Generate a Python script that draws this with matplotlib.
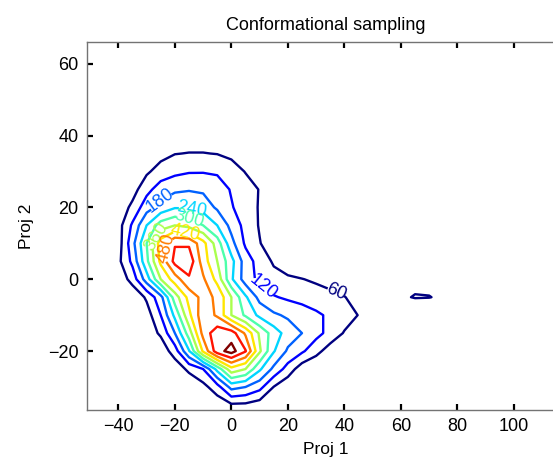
import numpy as np
import matplotlib
matplotlib.use("Agg")
import matplotlib.pyplot as plt
from matplotlib.colors import Normalize

plt.rcParams["font.family"] = ["Liberation Sans", "DejaVu Sans"]

# bin centres of the 2-D histogram (Proj 1 across, Proj 2 down the rows)
proj1_bins = [-45, -40, -35, -30, -25, -20, -15, -10, -5, 0, 5, 10, 15,
              20, 25, 30, 35, 40, 45, 50, 55, 60, 65, 70, 75, 80]
proj2_bins = [40, 35, 30, 25, 20, 15, 10, 5, 0, -5, -10, -15, -20,
              -25, -30, -35, -40]

# counts, one row per Proj 2 bin
counts = [
    [0, 0, 0, 0, 10, 25, 25, 25, 20, 10, 0, 0, 0, 0, 0, 0, 0, 0, 0, 0, 0, 0, 0, 0, 0, 0],
    [0, 0, 5, 20, 40, 58, 62, 62, 58, 45, 25, 5, 0, 0, 0, 0, 0, 0, 0, 0, 0, 0, 0, 0, 0, 0],
    [0, 5, 20, 50, 85, 105, 115, 116, 112, 90, 57, 35, 10, 0, 0, 0, 0, 0, 0, 0, 0, 0, 0, 0, 0, 0],
    [0, 10, 35, 100, 150, 168, 175, 170, 150, 115, 88, 57, 25, 5, 0, 0, 0, 0, 0, 0, 0, 0, 0, 0, 0, 0],
    [5, 20, 75, 155, 200, 235, 235, 215, 170, 125, 90, 55, 20, 5, 0, 0, 0, 0, 0, 0, 0, 0, 0, 0, 0, 0],
    [10, 35, 130, 240, 330, 360, 340, 300, 240, 160, 100, 55, 25, 5, 0, 0, 0, 0, 0, 0, 0, 0, 0, 0, 0, 0],
    [10, 30, 160, 300, 450, 535, 530, 440, 330, 200, 110, 63, 25, 5, 0, 0, 0, 0, 0, 0, 0, 0, 0, 0, 0, 0],
    [10, 45, 135, 285, 435, 560, 580, 450, 360, 260, 150, 95, 52, 25, 5, 0, 0, 0, 0, 0, 0, 0, 0, 0, 0, 0],
    [5, 15, 85, 210, 360, 450, 530, 490, 400, 250, 150, 105, 80, 70, 62, 50, 40, 25, 10, 0, 0, 30, 50, 50, 30, 0],
    [0, 0, 10, 70, 160, 330, 440, 500, 470, 360, 250, 160, 125, 110, 100, 90, 75, 62, 40, 10, 20, 55, 62, 61, 55, 20],
    [0, 0, 0, 30, 120, 255, 405, 520, 470, 360, 290, 225, 190, 170, 150, 130, 110, 90, 58, 20, 5, 10, 25, 25, 10, 5],
    [0, 0, 0, 25, 70, 180, 330, 500, 580, 570, 470, 350, 270, 215, 180, 140, 100, 55, 25, 5, 0, 0, 0, 0, 0, 0],
    [0, 0, 0, 0, 20, 90, 235, 430, 575, 625, 545, 370, 245, 170, 130, 80, 30, 5, 0, 0, 0, 0, 0, 0, 0, 0],
    [0, 0, 0, 0, 0, 20, 75, 120, 260, 400, 360, 250, 165, 95, 25, 5, 0, 0, 0, 0, 0, 0, 0, 0, 0, 0],
    [0, 0, 0, 0, 0, 0, 5, 40, 95, 200, 180, 140, 58, 15, 0, 0, 0, 0, 0, 0, 0, 0, 0, 0, 0, 0],
    [0, 0, 0, 0, 0, 0, 0, 5, 20, 50, 48, 30, 10, 0, 0, 0, 0, 0, 0, 0, 0, 0, 0, 0, 0, 0],
    [0, 0, 0, 0, 0, 0, 0, 0, 0, 0, 0, 0, 0, 0, 0, 0, 0, 0, 0, 0, 0, 0, 0, 0, 0, 0],
]

levels = [60, 120, 180, 240, 300, 360, 420, 480, 540, 600]

# where each contour label sits (data coords)
label_spots = {
    60: (37.5, -2.7),
    120: (10.5, -3.2),
    180: (-24.8, 21.6),
    240: (-14.0, 20.0),
    300: (-15.0, 17.5),
    360: (-28.0, 12.5),
    420: (-16.3, 12.5),
    480: (-25.4, 8.5),
}

fig = plt.figure(figsize=(5.53, 4.61), dpi=100)
ax = fig.add_axes([0.1568, 0.1106, 0.865, 0.798])

X, Y = np.meshgrid(proj1_bins, proj2_bins)
Z = np.array(counts, dtype=float)
norm = Normalize(vmin=60, vmax=600)
# one contour set per level so each label lands on its own line
for lev in levels:
    cs = ax.contour(X, Y, Z, levels=[lev], colors=[plt.cm.jet(norm(lev))],
                    linewidths=1.7)
    if lev in label_spots:
        ax.clabel(cs, manual=[label_spots[lev]], fontsize=13, inline=True,
                  inline_spacing=2, fmt="%d")

ax.set_xlim(-51.2, 118.1)
ax.set_ylim(-36.4, 66.0)
ax.set_xticks(range(-40, 101, 20))
ax.set_yticks(range(-20, 61, 20))
ax.tick_params(direction="in", top=True, right=False, length=4, width=1.6,
               labelsize=13, pad=6)
for side in ["left", "bottom", "top"]:
    ax.spines[side].set_color("0.45")
    ax.spines[side].set_linewidth(1.0)
ax.spines["right"].set_visible(False)

ax.set_xlabel("Proj 1", fontsize=12.5, labelpad=5)
ax.set_ylabel("Proj 2", fontsize=12.5, labelpad=10)
ax.set_title("Conformational sampling", fontsize=13, pad=9)

fig.savefig("out.png", dpi=100)
